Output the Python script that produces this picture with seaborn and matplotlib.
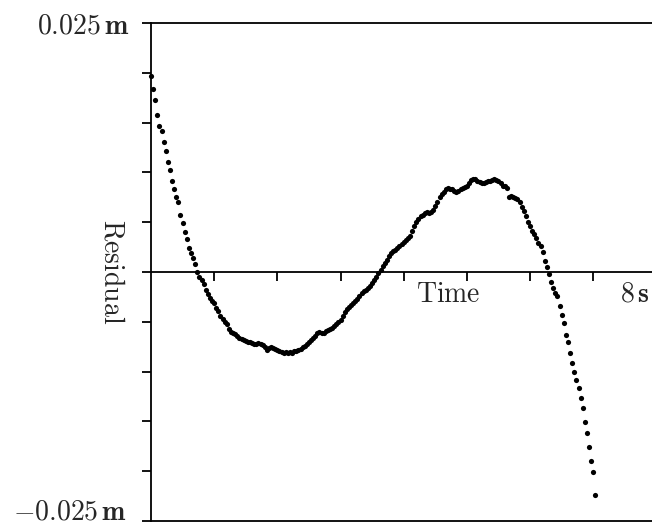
import numpy as np
import pandas as pd
import matplotlib
matplotlib.use("Agg")
import matplotlib.pyplot as plt
import seaborn as sns

# Residual values in millimetres, sampled at 30 frames per second
residual_mm = [
    19.7, 18.4, 17.3, 15.8, 14.7, 14.2, 13.1, 12.1, 11.0, 10.2,
    9.1, 8.3, 7.5, 7.0, 5.7, 4.9, 4.0, 3.3, 2.4, 1.9,
    1.4, 0.8, 0.0, -0.5, -0.8, -1.25, -1.8, -2.24, -2.64, -2.96,
    -3.16, -3.66, -3.96, -4.37, -4.70, -4.97, -5.27, -5.72, -6.00, -6.09,
    -6.27, -6.43, -6.58, -6.70, -6.80, -6.90, -6.98, -7.06, -7.16, -7.23,
    -7.18, -7.16, -7.26, -7.33, -7.58, -7.81, -7.68, -7.58, -7.68, -7.76,
    -7.86, -7.98, -8.03, -8.10, -8.08, -8.12, -8.05, -8.16, -7.98, -7.90,
    -7.88, -7.76, -7.58, -7.38, -7.21, -6.98, -6.81, -6.63, -6.45, -6.17,
    -6.00, -6.12, -6.15, -5.97, -5.87, -5.77, -5.65, -5.47, -5.27, -5.02,
    -4.82, -4.42, -4.02, -3.76, -3.48, -3.29, -3.14, -2.94, -2.73, -2.36,
    -2.06, -1.94, -1.81, -1.61, -1.41, -1.15, -0.83, -0.50, -0.15, 0.20,
    0.58, 0.88, 1.20, 1.61, 1.86, 2.08, 2.19, 2.41, 2.61, 2.78,
    3.01, 3.23, 3.44, 3.66, 4.12, 4.62, 5.02, 5.32, 5.62, 5.75,
    5.92, 6.04, 5.97, 6.07, 6.22, 6.65, 7.03, 7.48, 7.83, 8.08,
    8.33, 8.48, 8.38, 8.30, 8.18, 8.08, 8.18, 8.33, 8.43, 8.53,
    8.68, 8.92, 9.19, 9.37, 9.34, 9.17, 9.04, 8.94, 8.96, 9.06,
    9.09, 9.12, 9.19, 9.32, 9.19, 9.09, 8.89, 8.68, 8.63, 8.40,
    7.58, 7.60, 7.54, 7.43, 7.30, 6.98, 6.53, 6.12, 5.62, 5.02,
    4.62, 4.12, 3.77, 3.41, 2.96, 2.66, 2.01, 1.15, 0.55, -0.20,
    -1.00, -1.56, -2.11, -2.41, -3.46, -4.27, -5.15, -6.28, -7.06, -8.16,
    -9.14, -9.99, -10.84, -11.65, -12.65, -13.65, -15.06, -16.21, -17.57, -18.98,
    -20.11, -22.42,
]
frame_rate = 30.0
frames = np.arange(len(residual_mm))

y_ticks = [-0.025, -0.020, -0.015, -0.010, -0.005, 0.0, 0.005, 0.010, 0.015, 0.020, 0.025]
y_top_label = r"$0.025\,\mathbf{m}$"
y_bottom_label = r"$-0.025\,\mathbf{m}$"
x_ticks = [1, 2, 3, 4, 5, 6, 7]

df = pd.DataFrame({"time": frames / frame_rate,
                   "residual": np.array(residual_mm) / 1000.0})

sns.set_style("ticks")
plt.rcParams["mathtext.fontset"] = "cm"
plt.rcParams["font.family"] = ["DejaVu Serif"]

fig = plt.figure(figsize=(6.52, 5.27), dpi=100)
ax = fig.add_axes([151 / 652, 6 / 527, 501 / 652, 498 / 527])

sns.scatterplot(data=df, x="time", y="residual", ax=ax, color="black",
                s=14, linewidth=0, legend=False, clip_on=False)

ax.set_xlim(0, 7.93)
ax.set_ylim(-0.025, 0.025)

lw = 1.3
ax.spines["right"].set_visible(False)
ax.spines["top"].set_visible(True)
ax.spines["bottom"].set_position(("data", 0))
for s in ["left", "top", "bottom"]:
    ax.spines[s].set_linewidth(lw)
    ax.spines[s].set_color("black")
ax.axhline(-0.025, color="black", lw=lw, clip_on=False)

ax.set_yticks(y_ticks)
ax.set_yticklabels([""] * (len(y_ticks) - 1) + [y_top_label], fontsize=20)
ax.set_xticks(x_ticks)
ax.set_xticklabels([""] * len(x_ticks))
ax.tick_params(axis="both", direction="out", length=6.5, width=lw, color="black")
ax.tick_params(axis="y", pad=9)
ax.tick_params(axis="x", top=False)
ax.set_xlabel("")
ax.set_ylabel("")

fig.text(127 / 652, 7 / 527, y_bottom_label, fontsize=20, ha="right", va="baseline")

ax.text(4.71, -0.00298, r"$\mathrm{Time}$", fontsize=20, ha="center", va="baseline")
ax.text(7.90, -0.00298, r"$8\,\mathbf{s}$", fontsize=20, ha="right", va="baseline")
ax.text(-0.618, 0.0, r"$\mathrm{Residual}$", fontsize=20, ha="center", va="center",
        rotation=-90)

fig.savefig("out.png", dpi=100)
